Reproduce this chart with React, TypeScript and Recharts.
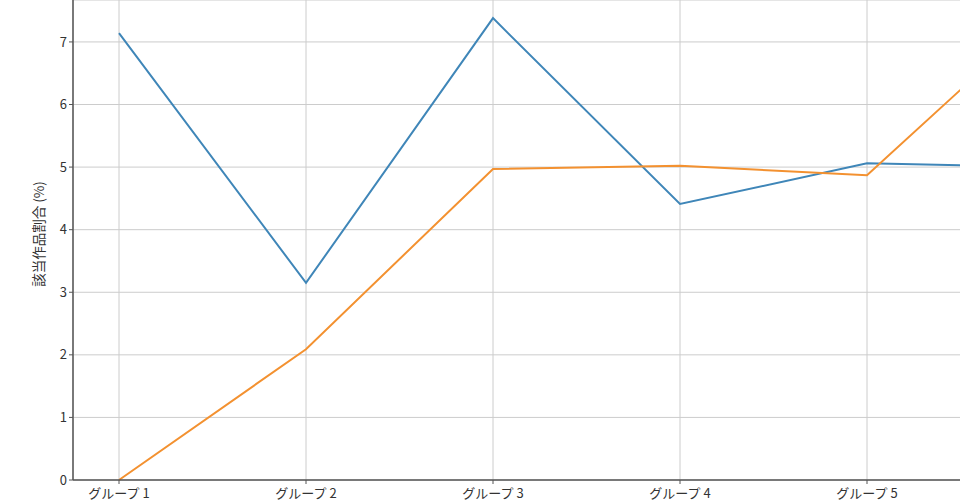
import { LineChart, Line, XAxis, YAxis, CartesianGrid } from "recharts";

const groups = ["グループ 1", "グループ 2", "グループ 3", "グループ 4", "グループ 5", "グループ 6"];
const seriesA = [7.14, 3.15, 7.38, 4.41, 5.06, 5.0];
const seriesB = [0.0, 2.09, 4.97, 5.02, 4.87, 7.6];
const yTicks = [0, 1, 2, 3, 4, 5, 6, 7];
const yLabel = "該当作品割合 (%)";

const data = groups.map((g, i) => ({ group: g, a: seriesA[i], b: seriesB[i] }));

const font = "'Noto Sans CJK JP', 'Noto Sans', sans-serif";

// the last group sits past the right edge of the picture, so its label is left blank
const xTickFormat = (v: string) => (v === groups[groups.length - 1] ? "" : v);

function YLabel() {
  return (
    <text
      x={38}
      y={234}
      transform="rotate(-90 38 234)"
      textAnchor="middle"
      dominantBaseline="central"
      fontSize={13.5}
      fill="#333"
      fontFamily={font}
    >
      {yLabel}
    </text>
  );
}

export default function App() {
  return (
    <div
      style={{
        position: "fixed",
        top: 0,
        left: 0,
        width: 960,
        height: 501,
        overflow: "hidden",
        background: "#fff",
      }}
    >
      <LineChart
        width={1100}
        height={501}
        data={data}
        margin={{ top: 0, right: 0, left: 0, bottom: 0 }}
      >
        <CartesianGrid stroke="#cccccc" strokeWidth={1} />
        <XAxis
          dataKey="group"
          padding={{ left: 46, right: 46 }}
          height={21}
          tickSize={4}
          tickFormatter={xTickFormat}
          tick={{ fontSize: 13, fill: "#333", fontFamily: font, dy: 3 }}
          axisLine={{ stroke: "#555", strokeWidth: 1.5 }}
          tickLine={{ stroke: "#555" }}
          interval={0}
        />
        <YAxis
          domain={[0, 7.67]}
          ticks={yTicks}
          width={73}
          tickSize={4}
          tick={{ fontSize: 13, fill: "#333", fontFamily: font }}
          axisLine={{ stroke: "#555", strokeWidth: 1.5 }}
          tickLine={{ stroke: "#555" }}
          label={{ content: <YLabel /> }}
        />
        <Line
          dataKey="a"
          stroke="#3f86b8"
          strokeWidth={2}
          dot={false}
          isAnimationActive={false}
        />
        <Line
          dataKey="b"
          stroke="#f39130"
          strokeWidth={2}
          dot={false}
          isAnimationActive={false}
        />
      </LineChart>
    </div>
  );
}
